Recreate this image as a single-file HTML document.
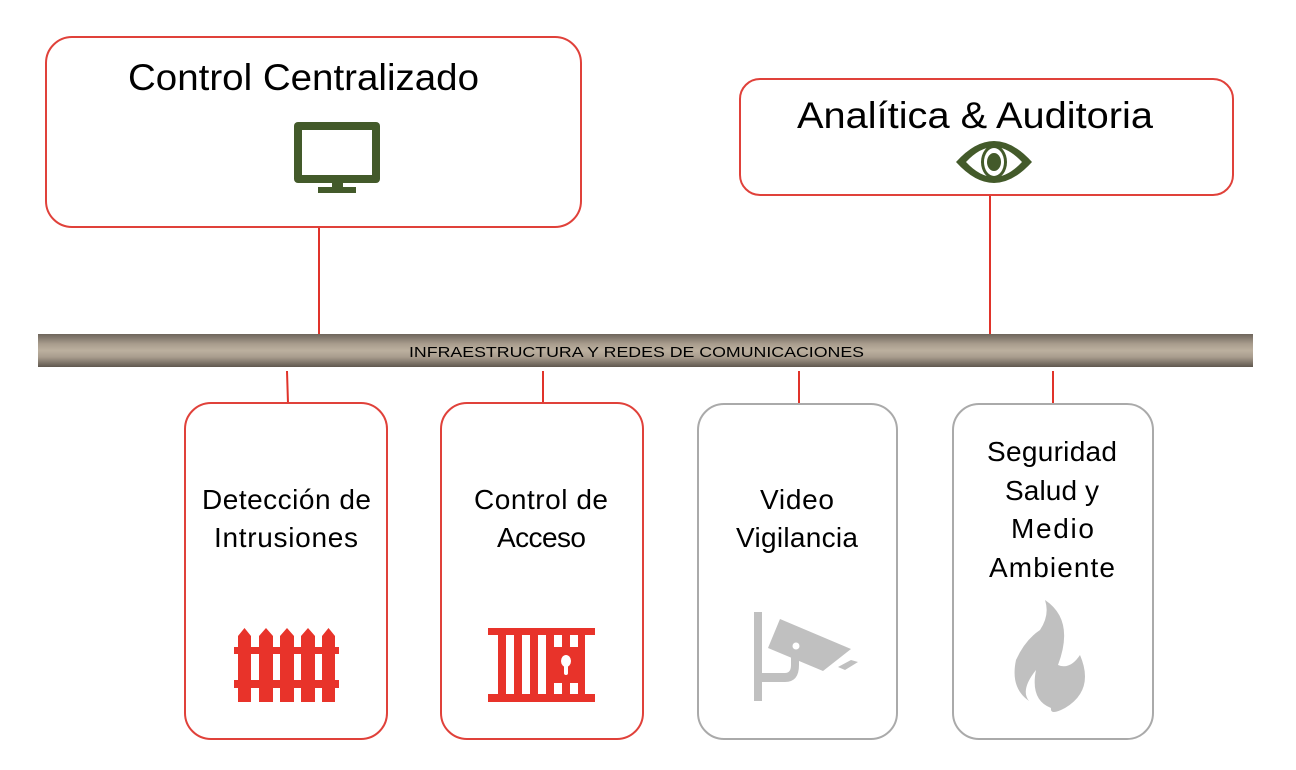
<!DOCTYPE html>
<html><head><meta charset="utf-8"><style>
html,body{margin:0;padding:0;background:#fff;}
svg{display:block;}
text{font-family:"Liberation Sans","DejaVu Sans",sans-serif;fill:#000;}
</style></head><body>
<svg width="1296" height="770" viewBox="0 0 1296 770" xmlns="http://www.w3.org/2000/svg">
<defs>
<linearGradient id="bar" x1="0" y1="0" x2="0" y2="1">
<stop offset="0" stop-color="#6e655b"/>
<stop offset="0.3" stop-color="#a89c8d"/>
<stop offset="0.5" stop-color="#bcb09f"/>
<stop offset="0.7" stop-color="#a89c8d"/>
<stop offset="1" stop-color="#5f574e"/>
</linearGradient>
</defs>
<g stroke="#e0332a" stroke-width="2">
<line x1="319" y1="227" x2="319" y2="335"/>
<line x1="990" y1="195" x2="990" y2="335"/>
<line x1="287" y1="371" x2="288" y2="403"/>
<line x1="543" y1="371" x2="543" y2="403"/>
<line x1="799" y1="371" x2="799" y2="404"/>
<line x1="1053" y1="371" x2="1053" y2="404"/>
</g>
<rect x="38" y="334" width="1215" height="33" fill="url(#bar)"/>
<text x="409" y="357" font-size="15" textLength="455" lengthAdjust="spacingAndGlyphs">INFRAESTRUCTURA Y REDES DE COMUNICACIONES</text>

<rect x="46" y="37" width="535" height="190" rx="26" fill="#fff" stroke="#e0413a" stroke-width="2"/>
<text x="128" y="90" font-size="37" textLength="351" lengthAdjust="spacingAndGlyphs">Control Centralizado</text>
<g fill="#435a2a">
<rect x="294" y="122" width="86" height="61" rx="4"/>
<rect x="302" y="130" width="70" height="45" fill="#fff"/>
<rect x="332" y="183" width="11" height="5"/>
<rect x="318" y="187" width="38" height="6"/>
</g>

<rect x="740" y="79" width="493" height="116" rx="20" fill="#fff" stroke="#e0413a" stroke-width="2"/>
<text x="797" y="128" font-size="37" textLength="356" lengthAdjust="spacingAndGlyphs">Analítica &amp; Auditoria</text>
<g>
<path d="M956 162 Q994 120 1032 162 Q994 204 956 162 Z" fill="#435a2a"/>
<path d="M966 162 Q994 132 1022 162 Q994 192 966 162 Z" fill="#fff"/>
<ellipse cx="994" cy="162" rx="13" ry="17" fill="#435a2a"/>
<ellipse cx="994" cy="162" rx="10" ry="14" fill="#fff"/>
<ellipse cx="994" cy="162" rx="7" ry="9" fill="#435a2a"/>
</g>

<rect x="185" y="403" width="202" height="336" rx="26" fill="#fff" stroke="#e0413a" stroke-width="2"/>
<rect x="441" y="403" width="202" height="336" rx="26" fill="#fff" stroke="#e0413a" stroke-width="2"/>
<rect x="698" y="404" width="199" height="335" rx="26" fill="#fff" stroke="#aaa" stroke-width="2"/>
<rect x="953" y="404" width="200" height="335" rx="26" fill="#fff" stroke="#aaa" stroke-width="2"/>

<g font-size="28" lengthAdjust="spacingAndGlyphs">
<text x="202" y="509" textLength="169">Detección de</text>
<text x="214" y="547" textLength="144">Intrusiones</text>
<text x="474" y="509" textLength="134">Control de</text>
<text x="497" y="547" textLength="89">Acceso</text>
<text x="760" y="509" textLength="74">Video</text>
<text x="736" y="547" textLength="122">Vigilancia</text>
<text x="987" y="461" textLength="130">Seguridad</text>
<text x="1005" y="500" textLength="94">Salud y</text>
<text x="1011" y="538" textLength="83">Medio</text>
<text x="989" y="577" textLength="126">Ambiente</text>
</g>

<g fill="#e8332a">
<path d="M238 636 l6.5 -8 l6.5 8 v66 h-13z"/>
<path d="M259 636 l7 -8 l7 8 v66 h-14z"/>
<path d="M280 636 l7 -8 l7 8 v66 h-14z"/>
<path d="M301 636 l7 -8 l7 8 v66 h-14z"/>
<path d="M322 636 l6.5 -8 l6.5 8 v66 h-13z"/>
<rect x="234" y="647" width="105" height="7"/>
<rect x="234" y="680" width="105" height="8"/>
</g>
<g fill="#e8332a">
<rect x="488" y="628" width="107" height="7"/>
<rect x="488" y="694" width="107" height="8"/>
<rect x="498" y="635" width="87" height="59"/>
</g>
<g fill="#fff">
<rect x="506" y="635" width="8" height="59"/>
<rect x="522" y="635" width="8" height="59"/>
<rect x="538" y="635" width="8" height="59"/>
<rect x="554" y="635" width="8" height="12"/>
<rect x="570" y="635" width="8" height="12"/>
<rect x="554" y="683" width="8" height="11"/>
<rect x="570" y="683" width="8" height="11"/>
<ellipse cx="566" cy="661" rx="5" ry="6"/>
<rect x="564" y="663" width="4" height="12" rx="2"/>
</g>
<g fill="#c0c0c0">
<rect x="754" y="612" width="8" height="89"/>
<path d="M762 673 h23 q6 0 6 -8 v-8 h8 v8 q0 17 -14 17 h-23z"/>
<path d="M780 619 l71 30 l-28 22 l-55 -23z"/>
<path d="M838 667 l13 -7 l7 2 l-13 8z"/>
</g>
<circle cx="796" cy="646" r="3.5" fill="#fff"/>
<path d="M1045 600 Q1075 620 1058 665 Q1070 670 1080 655 Q1095 690 1065 708 Q1050 716 1051 708 Q1030 700 1036 670 Q1020 690 1029 701 Q1010 688 1016 660 Q1025 640 1040 630 Q1050 615 1045 600 Z" fill="#c0c0c0"/>
</svg>
</body></html>
